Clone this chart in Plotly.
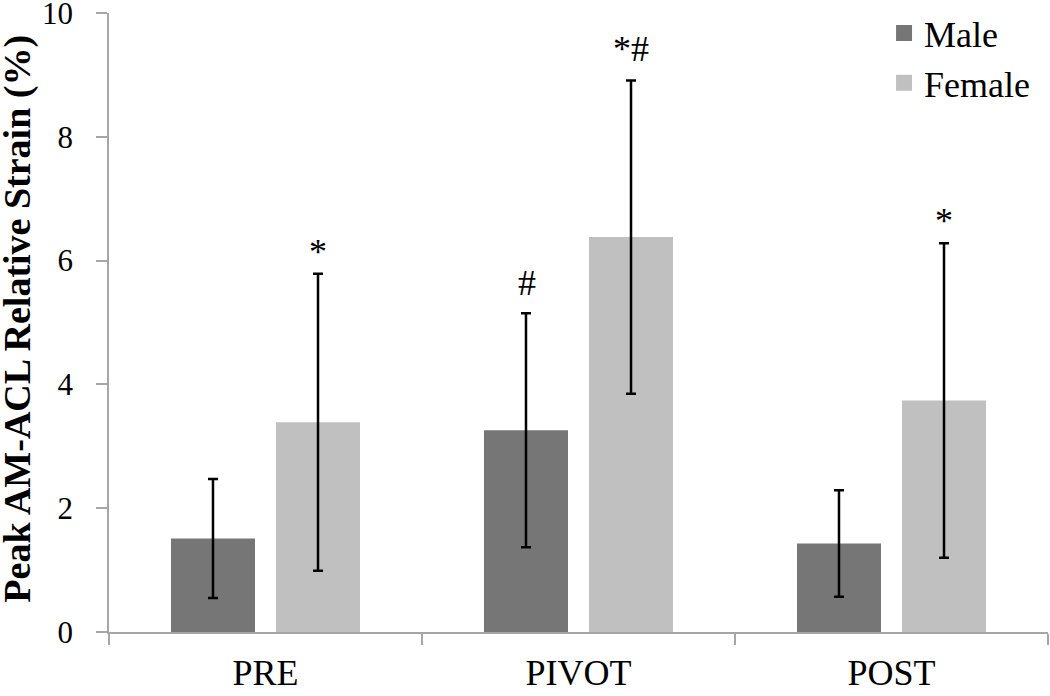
import plotly.graph_objects as go

categories = ["PRE", "PIVOT", "POST"]
male_mean = [1.51, 3.26, 1.43]
male_sd = [0.96, 1.89, 0.86]
female_mean = [3.39, 6.38, 3.74]
female_sd = [2.40, 2.53, 2.54]
female_marks = ["*", "*#", "*"]
male_marks = ["", "#", ""]
y_ticks = [0, 2, 4, 6, 8, 10]
y_title = "Peak AM-ACL Relative Strain (%)"

FONT = "Liberation Serif, Times New Roman, serif"
MALE_C = "#767676"
FEMALE_C = "#c0c0c0"
AXIS_C = "#a6a6a6"

fig = go.Figure()
fig.add_trace(go.Bar(
    x=categories, y=male_mean, name="Male", marker_color=MALE_C,
    marker_line_width=0, showlegend=False,
    error_y=dict(type="data", array=male_sd, color="black", thickness=2.5, width=5),
))
fig.add_trace(go.Bar(
    x=categories, y=female_mean, name="Female", marker_color=FEMALE_C,
    marker_line_width=0, showlegend=False,
    error_y=dict(type="data", array=female_sd, color="black", thickness=2.5, width=5),
))
# legend entries with larger square swatches
for name, c in [("Male", MALE_C), ("Female", FEMALE_C)]:
    fig.add_trace(go.Scatter(x=[None], y=[None], mode="markers", name=name,
                             marker=dict(symbol="square", size=19, color=c)))

male_shift = {"#": 8}
female_shift = {"*#": 10}
annotations = []
for i, cat in enumerate(categories):
    if male_marks[i]:
        annotations.append(dict(x=cat, y=male_mean[i] + male_sd[i], xref="x", yref="y",
                                text=male_marks[i], showarrow=False, xshift=-52,
                                yanchor="bottom", yshift=male_shift.get(male_marks[i], 0),
                                font=dict(family=FONT, size=36, color="black")))
    if female_marks[i]:
        annotations.append(dict(x=cat, y=female_mean[i] + female_sd[i], xref="x", yref="y",
                                text=female_marks[i], showarrow=False, xshift=52,
                                yanchor="bottom", yshift=female_shift.get(female_marks[i], 0),
                                font=dict(family=FONT, size=36, color="black")))
# rotated y-axis title
annotations.append(dict(text="<b>" + y_title + "</b>", xref="paper", yref="paper",
                        x=-0.097, y=0.506, xanchor="center", yanchor="middle",
                        textangle=-90, showarrow=False,
                        font=dict(family=FONT, size=38, color="black")))

fig.update_layout(
    width=1050, height=696,
    margin=dict(l=109, r=2, t=13, b=64, autoexpand=False),
    paper_bgcolor="white", plot_bgcolor="white",
    barmode="group", bargap=0.329, bargroupgap=0.2,
    font=dict(family=FONT, color="black"),
    legend=dict(x=0.8254, y=1.016, xanchor="left", yanchor="top",
                font=dict(family=FONT, size=36, color="black"),
                bgcolor="rgba(0,0,0,0)", itemsizing="trace", tracegroupgap=0),
    annotations=annotations,
)
fig.update_xaxes(
    automargin=False,
    showline=True, linecolor=AXIS_C, linewidth=1.5,
    ticks="outside", tickson="boundaries", ticklen=11, tickcolor=AXIS_C, tickwidth=1.5,
    ticklabelstandoff=8,
    tickfont=dict(family=FONT, size=36, color="black"), showgrid=False,
)
fig.update_yaxes(
    automargin=False,
    range=[0, 10.001], tickvals=y_ticks, ticklabeloverflow="allow",
    showline=True, linecolor=AXIS_C, linewidth=1.5,
    ticks="outside", ticklen=11, tickcolor=AXIS_C, tickwidth=1.5,
    ticklabelstandoff=17,
    tickfont=dict(family=FONT, size=31, color="black"), showgrid=False, zeroline=False,
)

# remove the page's default 8px body margin so the figure sits at the window origin
fig.write_html("out.html", config={"displayModeBar": False},
               post_script="document.body.style.margin='0';")
